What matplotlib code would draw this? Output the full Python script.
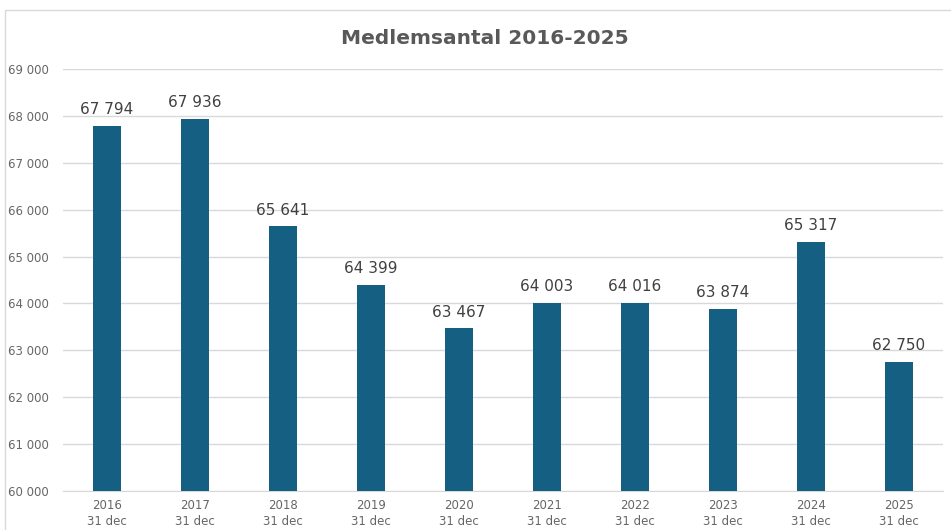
import matplotlib.pyplot as plt
from matplotlib.patches import Rectangle
from matplotlib.ticker import FuncFormatter

years = ['2016', '2017', '2018', '2019', '2020', '2021', '2022', '2023', '2024', '2025']
members = [67794, 67936, 65641, 64399, 63467, 64003, 64016, 63874, 65317, 62750]
labels = [y + '\n31 dec' for y in years]

def sv(v, pos=None):
    return f'{int(v):,}'.replace(',', ' ')

fig = plt.figure(figsize=(9.51, 5.30), dpi=100)
fig.patches.append(Rectangle((5 / 951, -0.01), 1.0, (530 - 10) / 530 + 0.01,
                             transform=fig.transFigure, fill=False,
                             edgecolor='#d9d9d9', linewidth=1.0))
ax = fig.add_axes([63 / 951, 39 / 530, 880 / 951, 422 / 530])

x = range(len(years))
ax.bar(x, members, width=0.32, color='#155f82', zorder=3)
for i, v in enumerate(members):
    ax.text(i, v + 190, sv(v), ha='center', va='bottom', fontsize=11, color='#404040')

ax.set_ylim(60000, 69000)
ax.set_xlim(-0.5, len(years) - 0.5)
ax.set_yticks(range(60000, 69001, 1000))
ax.yaxis.set_major_formatter(FuncFormatter(sv))
ax.set_xticks(list(x))
ax.set_xticklabels(labels, fontsize=8.5, color='#666666', linespacing=1.3)
ax.tick_params(axis='y', labelsize=8.5, labelcolor='#666666', length=0, pad=10)
ax.tick_params(axis='x', length=0, pad=6)
ax.grid(axis='y', color='#d9d9d9', linewidth=1, zorder=0)
for s in ['top', 'right', 'left']:
    ax.spines[s].set_visible(False)
ax.spines['bottom'].set_color('#d9d9d9')

fig.text(485 / 951, 1 - 38 / 530, 'Medlemsantal 2016-2025', ha='center', va='center',
         fontsize=14.5, fontweight='bold', color='#595959',
         family=['Liberation Sans Narrow', 'DejaVu Sans'])

plt.savefig('out.png', dpi=100)
